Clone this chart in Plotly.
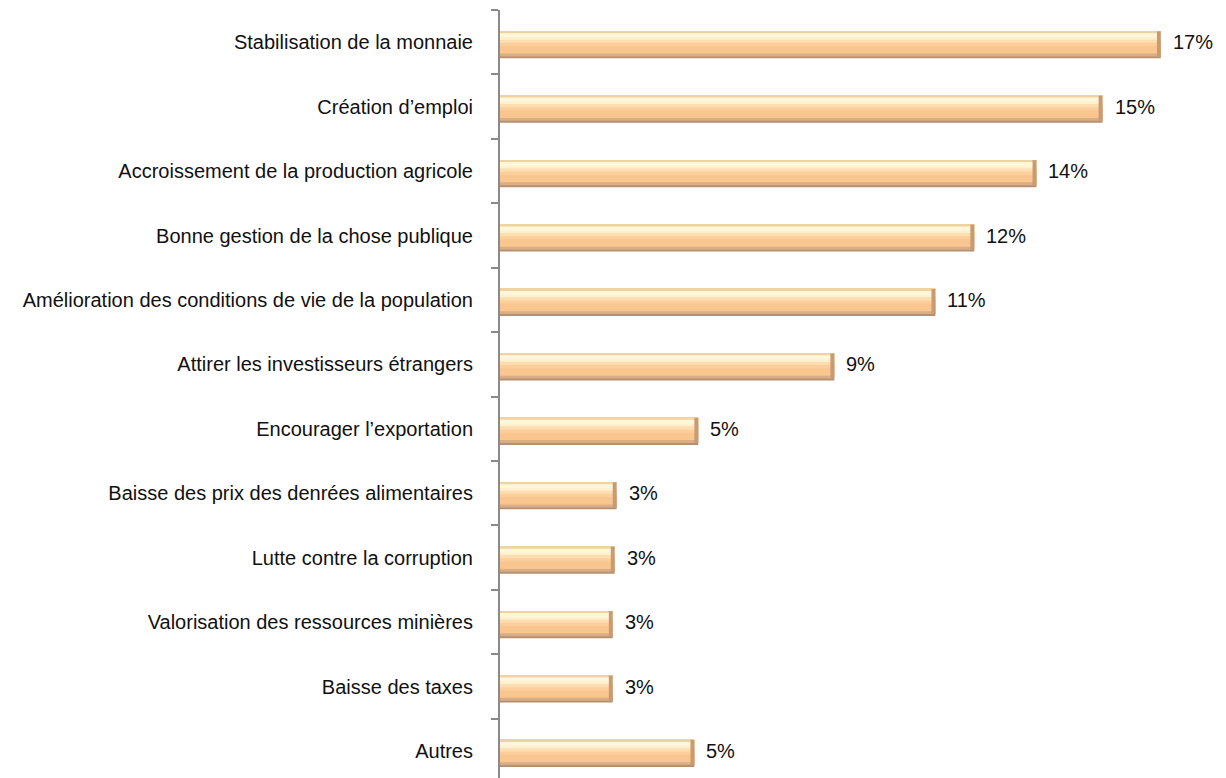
import plotly.graph_objects as go

categories = [
    "Stabilisation de la monnaie",
    "Création d’emploi",
    "Accroissement de la production agricole",
    "Bonne gestion de la chose publique",
    "Amélioration des conditions de vie de la population",
    "Attirer les investisseurs étrangers",
    "Encourager l’exportation",
    "Baisse des prix des denrées alimentaires",
    "Lutte contre la corruption",
    "Valorisation des ressources minières",
    "Baisse des taxes",
    "Autres",
]
values = [17.0, 15.5, 13.8, 12.2, 11.2, 8.6, 5.1, 3.0, 2.95, 2.9, 2.9, 5.0]
labels = ["17%", "15%", "14%", "12%", "11%", "9%", "5%", "3%", "3%", "3%", "3%", "5%"]

FONT = "Liberation Sans, Arial, sans-serif"
FS = 20

fig = go.Figure()

# layered bars to imitate the bevelled gradient look
TOP = -0.17
layers = [
    (0.420, "#B89070"),
    (0.390, "#D9AE86"),
    (0.345, "#F9C690"),
    (0.230, "#FBCE9C"),
    (0.180, "#FEDDB0"),
    (0.130, "#FFF0CE"),
    (0.090, "#FFF7DC"),
    (0.030, "#EFD3A0"),
]
for w, c in layers:
    fig.add_trace(go.Bar(
        x=values, y=categories, orientation="h",
        width=w, offset=TOP, marker=dict(color=c, line=dict(width=0)),
        hoverinfo="skip", showlegend=False,
    ))

# darker right end cap
cap = 0.10
fig.add_trace(go.Bar(
    x=[cap] * len(values), base=[v - cap for v in values], y=categories,
    orientation="h", width=0.39, offset=TOP,
    marker=dict(color="#C99B74", line=dict(width=0)),
    hoverinfo="skip", showlegend=False,
))

for cat, v, lab in zip(categories, values, labels):
    fig.add_annotation(
        x=v, y=cat, text=lab, showarrow=False, xanchor="left", xshift=10,
        font=dict(family=FONT, size=FS, color="#111111"),
    )

fig.update_layout(
    width=1218, height=770,
    barmode="overlay",
    paper_bgcolor="white", plot_bgcolor="white",
    margin=dict(l=492, r=3, t=2, b=0, autoexpand=False),
    showlegend=False,
    font=dict(family=FONT, size=FS, color="#111111"),
)
fig.update_xaxes(range=[0, 18.6], visible=False, showgrid=False, zeroline=False,
                 automargin=False)
fig.update_yaxes(
    type="category", categoryorder="array", categoryarray=categories,
    range=[11.42, -0.5], automargin=False,
    showline=True, linecolor="#8A8A8A", linewidth=2,
    ticks="outside", tickson="boundaries", ticklen=7, tickcolor="#8A8A8A", tickwidth=2,
    ticklabelstandoff=21,
    showgrid=False, zeroline=False,
    tickfont=dict(family=FONT, size=FS, color="#111111"),
)

fig.write_html("out.html")
